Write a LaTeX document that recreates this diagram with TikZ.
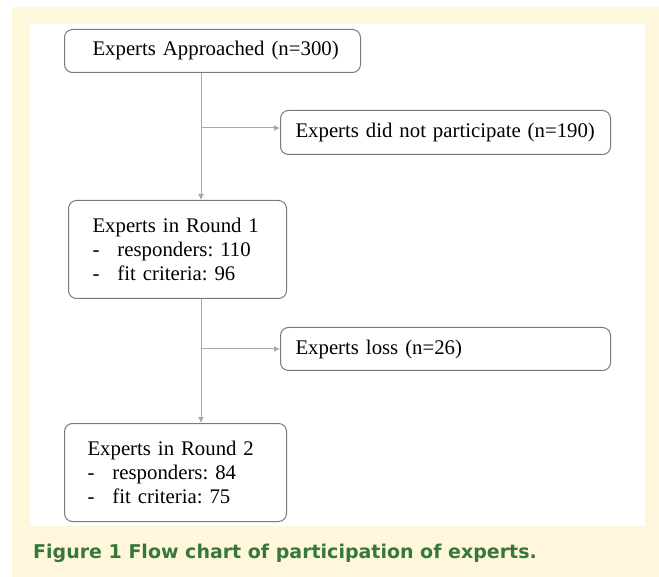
\documentclass[tikz,border=0pt]{standalone}
\usepackage{fontspec}
\setmainfont{Liberation Serif}
\newfontfamily\capfont{DejaVu Sans}
\usetikzlibrary{arrows.meta}
\frenchspacing

\definecolor{cream}{HTML}{FFF7DC}
\definecolor{capgreen}{HTML}{35783A}
\definecolor{linegray}{HTML}{A8A8A8}
\definecolor{boxgray}{HTML}{7A7A7A}

\tikzset{
  flowbox/.style={draw=boxgray, line width=1pt, rounded corners=8pt,
    anchor=north west, align=left, inner ysep=0pt,
    font=\fontsize{20.8}{24}\selectfont},
  flowline/.style={draw=linegray, line width=1pt}
}
\newcommand{\dashline}[1]{\makebox[25pt][l]{-}#1}

\begin{document}
\begin{tikzpicture}[x=1pt,y=-1pt,>={Latex[length=6pt,width=6pt]}]
\useasboundingbox (0,0) rectangle (659,577);
\fill[cream] (12,7) rectangle (659,577);
\fill[white] (30,24) rectangle (645,526);

% boxes
\node[flowbox, minimum height=43pt, inner xsep=28pt, text width=240pt] (approached) at (64,29)
  {\mbox{Experts Approached (n=300)}};
\node[flowbox, minimum height=44pt, inner xsep=15pt, text width=300pt] (noshow) at (280,110)
  {\mbox{Experts did not participate (n=190)}};
\node[flowbox, minimum height=98pt, inner xsep=24pt, text width=170pt] (round1) at (68,200)
  {Experts in Round 1\\ \dashline{responders: 110}\\ \dashline{fit criteria: 96}};
\node[flowbox, minimum height=43pt, inner xsep=15pt, text width=300pt] (loss) at (280,327)
  {Experts loss (n=26)};
\node[flowbox, minimum height=98pt, inner xsep=23pt, text width=176pt] (round2) at (64,423)
  {Experts in Round 2\\ \dashline{responders: 84}\\ \dashline{fit criteria: 75}};

% connectors
\coordinate (j1) at (201,128);
\coordinate (j2) at (201,349);
\draw[flowline,->] (j1 |- approached.south) -- (j1 |- round1.north);
\draw[flowline,->] (j1) -- (j1 -| noshow.west);
\draw[flowline,->] (j2 |- round1.south) -- (j2 |- round2.north);
\draw[flowline,->] (j2) -- (j2 -| loss.west);

% caption
\node[anchor=base west, inner sep=0pt, text=capgreen,
  font=\capfont\bfseries\fontsize{19}{22}\selectfont] (caption) at (33,558)
  {Figure 1 Flow chart of participation of experts.};
\end{tikzpicture}
\end{document}
